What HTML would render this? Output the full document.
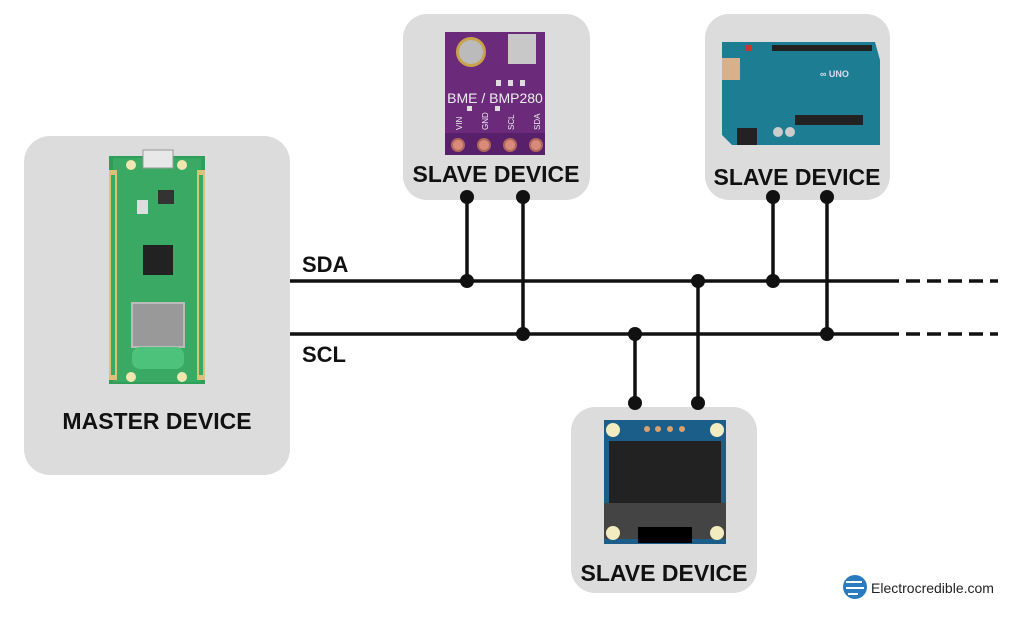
<!DOCTYPE html>
<html><head><meta charset="utf-8"><style>
body{margin:0;background:#fff;width:1012px;height:615px;overflow:hidden;font-family:"Liberation Sans",sans-serif}
</style></head><body>
<svg width="1012" height="615" viewBox="0 0 1012 615" xmlns="http://www.w3.org/2000/svg" font-family="Liberation Sans, sans-serif">
<!-- boxes -->
<rect x="24" y="136" width="266" height="339" rx="26" fill="#dcdcdc"/>
<rect x="403" y="14" width="187" height="186" rx="24" fill="#dcdcdc"/>
<rect x="705" y="14" width="185" height="186" rx="24" fill="#dcdcdc"/>
<rect x="571" y="407" width="186" height="186" rx="24" fill="#dcdcdc"/>

<!-- Pico -->
<rect x="109" y="156" width="96" height="228" fill="#2f9e58"/>
<rect x="113" y="158" width="88" height="224" fill="#3aa964"/>
<rect x="143" y="150" width="30" height="18" fill="#e8e8e8" stroke="#999"/>
<g fill="#d9c27a">
<rect x="109" y="170" width="8" height="210"/><rect x="197" y="170" width="8" height="210"/>
</g>
<g fill="#3aa964">
<rect x="111" y="175" width="4" height="200"/><rect x="199" y="175" width="4" height="200"/>
</g>
<circle cx="131" cy="165" r="5" fill="#f0e6b0"/><circle cx="182" cy="165" r="5" fill="#f0e6b0"/>
<circle cx="131" cy="377" r="5" fill="#f0e6b0"/><circle cx="182" cy="377" r="5" fill="#f0e6b0"/>
<rect x="143" y="245" width="30" height="30" fill="#222"/>
<rect x="137" y="200" width="11" height="14" fill="#ddd"/>
<rect x="158" y="190" width="16" height="14" fill="#333"/>
<rect x="132" y="303" width="52" height="44" fill="#999" stroke="#bbb" stroke-width="2"/>
<rect x="132" y="347" width="52" height="22" rx="8" fill="#4cc27a"/>

<!-- BME -->
<rect x="445" y="32" width="100" height="122" fill="#6b2a7a"/>
<rect x="445" y="133" width="100" height="22" fill="#58206a"/>
<circle cx="471" cy="52" r="15" fill="#c9a24a"/><circle cx="471" cy="52" r="12" fill="#bbb"/>
<rect x="508" y="34" width="28" height="30" fill="#c8c8c8"/>
<g fill="#ddd"><rect x="496" y="80" width="5" height="6"/><rect x="508" y="80" width="5" height="6"/><rect x="520" y="80" width="5" height="6"/><rect x="467" y="106" width="5" height="5"/><rect x="495" y="106" width="5" height="5"/></g>
<text x="495" y="103" font-size="14" fill="#eee" text-anchor="middle">BME / BMP280</text>
<g font-size="8" fill="#eee">
<text transform="translate(462,130) rotate(-90)">VIN</text>
<text transform="translate(488,130) rotate(-90)">GND</text>
<text transform="translate(514,130) rotate(-90)">SCL</text>
<text transform="translate(540,130) rotate(-90)">SDA</text>
</g>
<g fill="#d98a7a" stroke="#b0685a" stroke-width="2"><circle cx="458" cy="145" r="6"/><circle cx="484" cy="145" r="6"/><circle cx="510" cy="145" r="6"/><circle cx="536" cy="145" r="6"/></g>
<text x="496" y="182" font-size="23" font-weight="bold" text-anchor="middle" fill="#111">SLAVE DEVICE</text>

<!-- Arduino -->
<path d="M722 42 H875 L880 60 V145 H732 L722 135 Z" fill="#1d7e93"/>
<rect x="722" y="58" width="18" height="22" fill="#d8b08c"/>
<rect x="737" y="128" width="20" height="17" fill="#222"/>
<rect x="772" y="45" width="100" height="6" fill="#222"/>
<rect x="795" y="115" width="68" height="10" fill="#222"/>
<rect x="745" y="45" width="6" height="6" fill="#c33"/>
<circle cx="778" cy="132" r="5" fill="#ccc"/><circle cx="790" cy="132" r="5" fill="#ccc"/>
<text x="820" y="77" font-size="9" fill="#dde" font-weight="bold">∞ UNO</text>
<text x="797" y="185" font-size="23" font-weight="bold" text-anchor="middle" fill="#111">SLAVE DEVICE</text>

<!-- OLED -->
<rect x="604" y="420" width="122" height="124" fill="#1c5e8a"/>
<rect x="609" y="441" width="112" height="62" fill="#222"/>
<rect x="604" y="503" width="122" height="36" fill="#444"/>
<rect x="638" y="527" width="54" height="16" fill="#000"/>
<g fill="#f3ecc0"><circle cx="613" cy="430" r="7"/><circle cx="717" cy="430" r="7"/><circle cx="613" cy="533" r="7"/><circle cx="717" cy="533" r="7"/></g>
<g fill="#d9a070"><circle cx="647" cy="429" r="3"/><circle cx="658" cy="429" r="3"/><circle cx="670" cy="429" r="3"/><circle cx="682" cy="429" r="3"/></g>
<text x="664" y="581" font-size="23" font-weight="bold" text-anchor="middle" fill="#111">SLAVE DEVICE</text>

<text x="157" y="429" font-size="23" font-weight="bold" text-anchor="middle" fill="#111">MASTER DEVICE</text>

<!-- bus -->
<g stroke="#111" stroke-width="3.5" fill="none">
<line x1="290" y1="281" x2="885" y2="281"/>
<line x1="290" y1="334" x2="885" y2="334"/>
<line x1="885" y1="281" x2="998" y2="281" stroke-dasharray="14,7"/>
<line x1="885" y1="334" x2="998" y2="334" stroke-dasharray="14,7"/>
<line x1="467" y1="197" x2="467" y2="281"/>
<line x1="523" y1="197" x2="523" y2="334"/>
<line x1="773" y1="197" x2="773" y2="281"/>
<line x1="827" y1="197" x2="827" y2="334"/>
<line x1="635" y1="334" x2="635" y2="403"/>
<line x1="698" y1="281" x2="698" y2="403"/>
</g>
<g fill="#111">
<circle cx="467" cy="197" r="7"/><circle cx="523" cy="197" r="7"/>
<circle cx="773" cy="197" r="7"/><circle cx="827" cy="197" r="7"/>
<circle cx="635" cy="403" r="7"/><circle cx="698" cy="403" r="7"/>
<circle cx="467" cy="281" r="7"/><circle cx="523" cy="334" r="7"/>
<circle cx="773" cy="281" r="7"/><circle cx="827" cy="334" r="7"/>
<circle cx="635" cy="334" r="7"/><circle cx="698" cy="281" r="7"/>
</g>
<text x="302" y="272" font-size="22" font-weight="bold" fill="#111">SDA</text>
<text x="302" y="362" font-size="22" font-weight="bold" fill="#111">SCL</text>

<!-- logo -->
<circle cx="855" cy="587" r="12" fill="#2a7cc0"/>
<path d="M846 582 H862 M846 588 H864 M848 594 H858" stroke="#fff" stroke-width="2"/>
<text x="871" y="593" font-size="14" fill="#222">Electrocredible.com</text>
</svg>
</body></html>
